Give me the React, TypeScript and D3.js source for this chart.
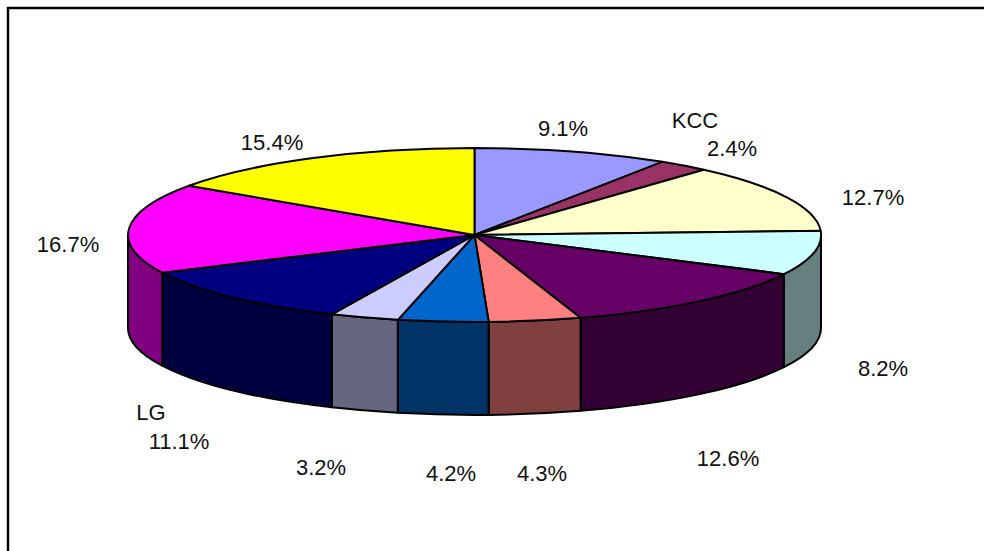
import React from "react";
import * as d3 from "d3";

const categories = ["", "KCC", "", "", "", "", "", "", "LG", "", ""];
const shares = [9.1, 2.4, 12.7, 8.2, 12.6, 4.3, 4.2, 3.2, 11.1, 16.7, 15.4];
const topColors = [
  "#9999ff", "#993366", "#ffffcc", "#ccffff", "#660066", "#ff8080",
  "#0066cc", "#ccccff", "#000080", "#ff00ff", "#ffff00",
];
const sideColors = [
  "#4d4d80", "#4d1a33", "#808066", "#668080", "#330033", "#804040",
  "#003366", "#666680", "#000040", "#800080", "#808000",
];

// label anchors, same order as shares: [x, baseline]
const valueAnchors = [
  [563, 136], [732, 156], [873, 205], [883, 376], [728, 466], [542, 481],
  [451, 481], [321, 475], [179, 449], [68, 252], [272, 150],
];
const nameAnchors = { KCC: [695, 128], LG: [151, 420] };

const width = 984;
const height = 551;
const cx = 474.5;
const cy = 235;
const rx = 346.5;
const ry = 87;
const depth = 93;

const pie = d3.pie<number>().sort(null).value((d) => d)(shares);
const arc = d3.arc<d3.PieArcDatum<number>>().innerRadius(0).outerRadius(1);

const px = (a: number) => cx + rx * Math.sin(a);
const py = (a: number) => cy - ry * Math.cos(a);

// wall of one slice, only the part on the front half of the ellipse
const sidePath = (d: d3.PieArcDatum<number>) => {
  const a0 = Math.max(d.startAngle, Math.PI / 2);
  const a1 = Math.min(d.endAngle, (3 * Math.PI) / 2);
  if (a1 <= a0) return null;
  return [
    `M${px(a0)},${py(a0)}`,
    `A${rx},${ry} 0 0 1 ${px(a1)},${py(a1)}`,
    `L${px(a1)},${py(a1) + depth}`,
    `A${rx},${ry} 0 0 0 ${px(a0)},${py(a0) + depth}`,
    "Z",
  ].join(" ");
};

const labelStyle = {
  fontFamily: "'Liberation Sans', Arial, sans-serif",
  fontSize: 22,
  fill: "#111",
  textAnchor: "middle" as const,
};

export default function App() {
  return (
    <svg
      width={width}
      height={height}
      style={{ position: "absolute", left: 0, top: 0, background: "#fff" }}
    >
      {/* frame: only top and left edges are inside the picture */}
      <path d={`M8,${height}V8H${width}`} fill="none" stroke="#000" strokeWidth={2.4} />

      {pie.map((d, i) => {
        const p = sidePath(d);
        return p ? (
          <path key={i} d={p} fill={sideColors[i]} stroke="#000" strokeWidth={2} strokeLinejoin="round" />
        ) : null;
      })}

      <g transform={`translate(${cx},${cy}) scale(${rx},${ry})`}>
        {pie.map((d, i) => (
          <path
            key={i}
            d={arc(d) as string}
            fill={topColors[i]}
            stroke="#000"
            strokeWidth={2}
            strokeLinejoin="round"
            vectorEffect="non-scaling-stroke"
          />
        ))}
      </g>

      {shares.map((v, i) => (
        <text key={i} x={valueAnchors[i][0]} y={valueAnchors[i][1]} style={labelStyle}>
          {d3.format(".1f")(v)}%
        </text>
      ))}
      {categories.filter(Boolean).map((name) => (
        <text key={name} x={nameAnchors[name][0]} y={nameAnchors[name][1]} style={labelStyle}>
          {name}
        </text>
      ))}
    </svg>
  );
}
